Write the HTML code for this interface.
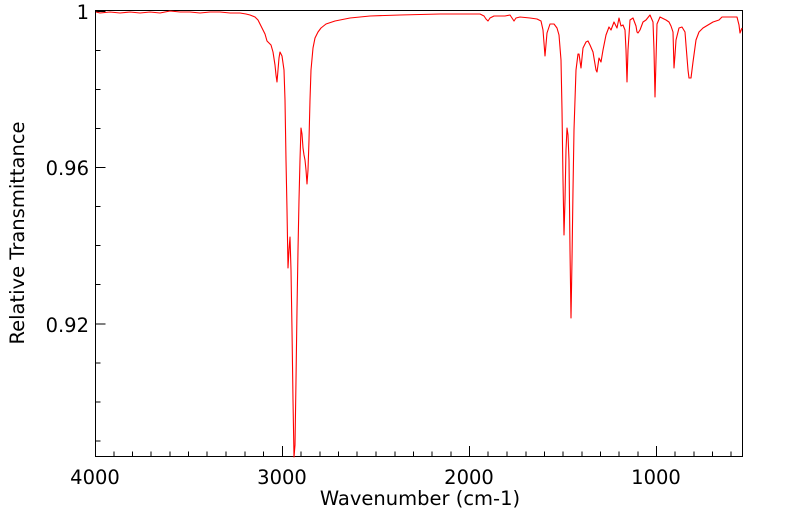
<!DOCTYPE html>
<html><head><meta charset="utf-8"><style>
html,body{margin:0;padding:0;background:#fff;}
svg{display:block;font-family:"DejaVu Sans","Liberation Sans",sans-serif;}
</style></head><body>
<svg width="799" height="516" viewBox="0 0 799 516">
<rect x="95.5" y="10.5" width="647" height="446" fill="none" stroke="#000" stroke-width="1"/>
<g stroke="#000" stroke-width="1">
<path d="M95.5,456.5V446 M282.5,456.5V446 M469.5,456.5V446 M656.5,456.5V446"/>
<path d="M114,456.5v-5M132.5,456.5v-5M151,456.5v-5M170,456.5v-5M188.5,456.5v-5M207,456.5v-5M226,456.5v-5M245,456.5v-5M263.5,456.5v-5
M301,456.5v-5M320,456.5v-5M338.5,456.5v-5M357,456.5v-5M376,456.5v-5M395,456.5v-5M413.5,456.5v-5M432,456.5v-5M451,456.5v-5
M488,456.5v-5M507,456.5v-5M526,456.5v-5M544.5,456.5v-5M563,456.5v-5M582,456.5v-5M600.5,456.5v-5M619,456.5v-5M638,456.5v-5
M675,456.5v-5M694,456.5v-5M712.5,456.5v-5M731,456.5v-5"/>
<path d="M95.5,11.5h10M95.5,167.5h10M95.5,324h10"/>
<path d="M95.5,50.5h5M95.5,89.5h5M95.5,128.5h5M95.5,206.5h5M95.5,245.5h5M95.5,284.5h5M95.5,363h5M95.5,402h5M95.5,441h5"/>
</g>
<g font-size="19.5" fill="#000" text-anchor="end">
<text x="89" y="19">1</text>
<text x="89" y="175">0.96</text>
<text x="89" y="332">0.92</text>
</g>
<g font-size="19.5" fill="#000" text-anchor="middle">
<text x="95" y="484">4000</text>
<text x="282" y="484">3000</text>
<text x="469" y="484">2000</text>
<text x="656" y="484">1000</text>
<text x="420" y="505">Wavenumber (cm-1)</text>
<text transform="translate(24,233) rotate(-90)">Relative Transmittance</text>
</g>
<polyline fill="none" stroke="#ff0000" stroke-width="1.1" stroke-linejoin="round" points="
96,12 100,13 110,12 120,13 130,12 140,13 150,12 160,13 170,11 180,12 190,12 200,13 210,12 220,12 230,13 240,13 246,14 250,15 255,17 258,20 261,26 263,30 265,34 267,41 269,43 271,45 273,52 275,65 276,75 277,82 278,70 279,58 280,52 282,56 284,70 285,100 286,160 287,210 288,268 289,250 290,237 291,270 292,330 293,400 294,457 295,445 296,380 297,310 298,250 299,200 300,160 301,128 302,134 303,148 304,155 305,160 306,170 307,184 308,170 309,140 310,100 311,70 313,48 315,38 318,32 321,28 326,24 335,21 350,18 370,16 400,15 440,14 480,14 484,16 486,19 488,21 490,18 494,16 505,16 510,15 512,18 514,21 516,18 520,17 530,18 537,19 541,21 543,30 545,56 547,33 550,24 554,24 557,28 559,35 561,60 562,110 563,180 564,235 565,200 566,150 567,128 568,135 569,160 570,250 571,318 572,260 573,190 574,130 576,70 578,54 579,54 581,68 583,48 586,42 588,41 590,45 593,52 596,70 597,72 599,58 601,62 603,50 606,35 609,27 611,30 614,22 617,28 619,18 621,26 623,25 625,30 626,50 627,82 628,50 630,20 633,18 636,26 637,32 638,33 640,30 643,22 646,20 650,15 653,22 654,50 655,97 656,60 657,24 660,17 666,20 669,22 671,26 673,32 674,68 675,55 676,40 679,28 682,27 685,32 686,45 688,70 689,78 691,78 693,62 696,40 699,32 703,28 708,25 713,22 719,20 722,17 726,17 732,17 737,17 739,25 740,33 742,28"/>
</svg>
</body></html>
